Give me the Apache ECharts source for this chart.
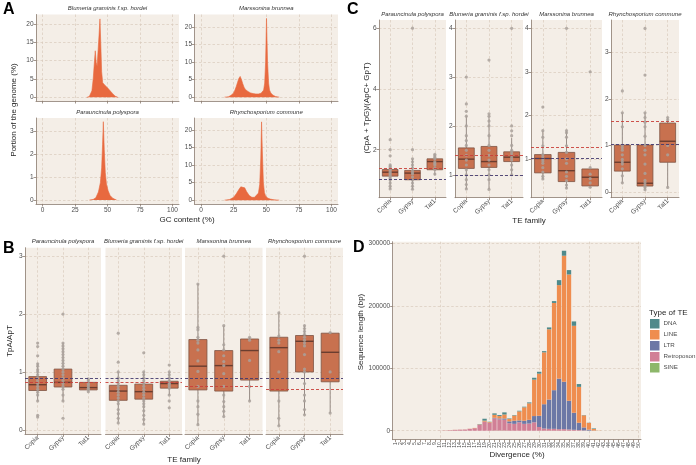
<!DOCTYPE html>
<html>
<head>
<meta charset="utf-8">
<script src="https://cdn.jsdelivr.net/npm/echarts@6/dist/echarts.min.js"></script>
<style>
  html, body { margin: 0; padding: 0; background: #fff; }
  #chart { width: 696px; height: 465px; }
</style>
</head>
<body>
<div id="chart"></div>
<script>
const FONT = '"Liberation Sans", Arial, sans-serif';
const PANEL_BG = '#f4eee7';
const GRID_COLOR = '#d9cabb';
const AXIS_COLOR = '#8a7b70';
const TEXT_COLOR = '#4d4d4d';
const AREA_COLOR = '#e8693f';
const BOX_FILL = '#c8714f';
const BOX_BORDER = '#7e5444';
const MEDIAN_COLOR = '#6a3d2f';
const WHISKER_COLOR = '#978c86';
const POINT_COLOR = '#a9a19b';
const RED = '#c8403a';
const PURPLE = '#43396e';

// ---------- Panel A: GC content (%) vs portion of genome (%)
const gcTicks = [0, 25, 50, 75, 100];
const blumeriaGC = [34, 36, 37, 38, 39, 40, 40.6, 41.3, 42, 42.8, 43.5, 44.2, 44.8, 45.5, 46.3, 47, 48, 49, 50, 51, 52, 53, 54, 55, 56, 57, 58];
const blumeriaPct = [0, 0.2, 0.6, 1.8, 5, 10, 12.7, 9.5, 8.5, 13, 17, 21.4, 15, 7, 4, 3.6, 3.3, 3, 2.6, 2.2, 1.8, 1.4, 1, 0.6, 0.3, 0.1, 0];
const marssoninaGC = [18, 21, 23, 25, 26, 27, 28, 29, 30, 31, 32, 33, 34, 36, 38, 40, 42, 44, 45, 46, 47, 48, 48.8, 49.5, 50.2, 51, 51.8, 52.5, 53.5, 55, 57, 60];
const marssoninaPct = [0, 0.1, 0.5, 1.2, 2, 3, 4.2, 5.3, 5.9, 5, 3.8, 2.8, 2.2, 1.6, 1.2, 1, 0.9, 0.9, 1, 1.1, 1.4, 2, 4, 10, 22.4, 10, 4, 2, 1.2, 0.6, 0.2, 0];
const parauncinulaGC = [36, 39, 41, 43, 44.5, 45.5, 46.2, 46.8, 47.5, 48.3, 49.2, 50.5, 52, 54, 57];
const parauncinulaPct = [0, 0.03, 0.1, 0.35, 0.75, 1.4, 2.4, 3.4, 2.2, 1.2, 0.7, 0.4, 0.2, 0.08, 0];
const rhynchoGC = [18, 22, 25, 27, 29, 30.5, 32, 33.5, 35, 37, 39, 41, 42.5, 44, 45, 45.8, 46.4, 47, 47.8, 48.6, 49.5, 51, 53, 56, 60];
const rhynchoPct = [0, 0.2, 0.8, 1.8, 3, 3.8, 4, 3.5, 2.4, 1.3, 0.8, 0.8, 1.1, 2, 4.5, 12, 22.3, 14, 5, 2.2, 1.2, 0.6, 0.3, 0.1, 0];

// ---------- Panels B and C: TE families, boxes are [min, Q1, median, Q3, max]
const teFamilies = ['Copia', 'Gypsy', 'Tat1'];
const facetSpecies = ['Parauncinula polyspora', 'Blumeria graminis f.sp. hordei', 'Marssonina brunnea', 'Rhynchosporium commune'];

// B: TpA/ApT
const tpaTicks = [0, 1, 2, 3];
const tpaBoxPar = [[0.5, 0.68, 0.78, 0.92, 1.15], [0.5, 0.74, 0.82, 1.05, 1.5], [0.66, 0.69, 0.73, 0.82, 0.88]];
const tpaBoxBlu = [[0.13, 0.51, 0.67, 0.77, 1.0], [0.1, 0.53, 0.66, 0.79, 1.0], [0.6, 0.72, 0.8, 0.84, 1.0]];
const tpaBoxMar = [[0.09, 0.69, 1.1, 1.56, 2.52], [0.23, 0.67, 1.11, 1.37, 1.8], [0.5, 0.86, 1.37, 1.57, 1.6]];
const tpaBoxRhy = [[0.07, 0.67, 1.42, 1.6, 2.02], [0.26, 1.0, 1.53, 1.63, 1.8], [0.29, 0.83, 1.34, 1.67, 1.68]];
const tpaPtsPar = [
  [0.22, 0.25, 0.5, 0.6, 0.65, 0.7, 0.75, 0.8, 0.85, 0.9, 0.95, 1.0, 1.04, 1.1, 1.14, 1.28, 1.44, 1.5],
  [0.2, 0.5, 0.6, 0.7, 0.75, 0.8, 0.85, 0.9, 0.95, 1.0, 1.05, 1.1, 1.15, 1.2, 1.25, 1.3, 1.35, 1.4, 1.45, 1.5, 2.0],
  [0.66, 0.7, 0.72, 0.75, 0.78, 0.8, 0.85, 0.88]];
const tpaPtsBlu = [
  [0.12, 0.2, 0.28, 0.35, 0.45, 0.5, 0.55, 0.6, 0.65, 0.7, 0.75, 0.8, 0.85, 0.9, 1.0, 1.17, 1.67],
  [0.1, 0.18, 0.25, 0.33, 0.4, 0.45, 0.5, 0.55, 0.6, 0.65, 0.7, 0.75, 0.8, 0.85, 0.9, 0.95, 1.0, 1.33],
  [0.38, 0.5, 0.6, 0.72, 0.75, 0.78, 0.8, 0.82, 0.85, 0.9, 0.95, 1.0, 1.12]];
const tpaPtsMar = [
  [0.09, 0.27, 0.4, 0.5, 0.75, 1.01, 1.19, 1.38, 1.5, 1.55, 1.6, 1.73, 1.77, 2.52],
  [0.23, 0.32, 0.4, 0.49, 0.6, 0.75, 0.97, 1.11, 1.18, 1.28, 1.38, 1.47, 1.8, 3.0],
  [0.5, 0.75, 1.2, 1.55, 1.6]];
const tpaPtsRhy = [
  [0.07, 0.2, 0.5, 1.0, 1.35, 1.5, 1.55, 1.62, 2.02],
  [0.26, 0.35, 0.5, 0.6, 0.8, 1.0, 1.05, 1.3, 1.45, 1.5, 1.55, 1.6, 1.65, 1.7, 1.75, 1.8, 3.0],
  [0.29, 1.0, 1.68]];
const tpaRefRed = [0.83, 0.83, 0.76, 0.70];
const tpaRefPurple = [0.89, 0.89, 0.90, 0.90];

// C: (CpA + TpG)/(ApC + GpT)
const cpaRanges = [[0.42, 6.27], [0.53, 4.17], [0.11, 4.19], [-0.12, 3.69]];
const cpaTicks = [[2, 4, 6], [1, 2, 3, 4], [1, 2, 3, 4], [0, 1, 2, 3]];
const cpaBoxPar = [[0.71, 1.13, 1.26, 1.35, 1.5], [0.69, 1.01, 1.23, 1.32, 1.7], [1.15, 1.34, 1.61, 1.7, 1.85]];
const cpaBoxBlu = [[0.71, 1.13, 1.32, 1.55, 2.2], [0.7, 1.15, 1.27, 1.58, 2.2], [1.0, 1.27, 1.36, 1.47, 1.75]];
const cpaBoxMar = [[0.54, 0.68, 1.01, 1.1, 1.65], [0.33, 0.48, 0.73, 1.15, 1.65], [0.35, 0.38, 0.58, 0.77, 0.8]];
const cpaBoxRhy = [[0.2, 0.45, 0.64, 1.01, 1.7], [0.05, 0.13, 0.19, 1.01, 1.7], [0.1, 0.64, 1.09, 1.48, 1.6]];
const cpaPtsPar = [
  [0.71, 0.8, 0.9, 1.0, 1.05, 1.1, 1.15, 1.2, 1.25, 1.3, 1.35, 1.4, 1.45, 1.5, 1.8, 2.0, 2.33],
  [0.7, 0.8, 0.9, 1.0, 1.1, 1.2, 1.25, 1.3, 1.4, 1.5, 1.6, 1.7, 2.0, 6.0],
  [1.2, 1.35, 1.4, 1.5, 1.55, 1.6, 1.7, 1.75, 1.8, 1.85]];
const cpaPtsBlu = [
  [0.71, 0.8, 0.9, 1.0, 1.1, 1.2, 1.3, 1.4, 1.5, 1.6, 1.7, 1.8, 2.0, 2.2, 2.3, 2.45, 3.0],
  [0.7, 0.9, 1.0, 1.1, 1.2, 1.3, 1.4, 1.5, 1.6, 1.8, 2.0, 2.1, 2.2, 2.25, 3.35],
  [1.0, 1.1, 1.2, 1.3, 1.35, 1.4, 1.45, 1.5, 1.6, 1.8, 1.9, 2.0, 4.0]];
const cpaPtsMar = [
  [0.54, 0.6, 0.7, 0.8, 0.9, 0.95, 1.0, 1.05, 1.1, 1.3, 1.5, 1.65, 2.19],
  [0.33, 0.4, 0.5, 0.6, 0.7, 0.9, 1.0, 1.15, 1.3, 1.5, 1.6, 1.65, 4.0],
  [0.35, 0.45, 0.55, 0.65, 0.8, 3.0]];
const cpaPtsRhy = [
  [0.2, 0.35, 0.5, 0.6, 0.65, 0.7, 0.8, 0.9, 0.95, 1.0, 1.4, 1.7, 2.17],
  [0.05, 0.1, 0.15, 0.2, 0.25, 0.4, 0.6, 0.8, 0.9, 1.0, 1.2, 1.4, 1.5, 1.6, 1.7, 2.51, 3.51],
  [0.1, 0.8, 1.0, 1.55, 1.6]];
const cpaRefRed = [1.40, 1.39, 1.27, 1.51];
const cpaRefPurple = [1.04, 1.0, 1.02, 1.02];

// ---------- Panel D: divergence (%) vs sequence length (bp)
const divergence = ['1', '2', '3', '4', '5', '6', '7', '8', '9', '10', '11', '12', '13', '14', '15', '16', '17', '18', '19', '20',
  '21', '22', '23', '24', '25', '26', '27', '28', '29', '30', '31', '32', '33', '34', '35', '36', '37', '38', '39', '40',
  '41', '42', '43', '44', '45', '46', '47', '48', '49', '50'];
const lenTicks = [0, 100000, 200000, 300000];
const lenSINE = [0, 0, 0, 0, 0, 0, 0, 0, 0, 0, 0, 0, 0, 0, 0, 0, 0, 0, 0, 0,
  200, 200, 200, 0, 0, 0, 0, 0, 0, 0, 0, 0, 0, 0, 0, 0, 0, 0, 0, 0,
  0, 0, 0, 0, 0, 0, 0, 0, 0, 0];
const lenRetroposon = [0, 0, 0, 0, 0, 0, 0, 0, 0, 200, 400, 800, 1400, 1700, 1900, 3000, 4000, 9500, 14000, 12500,
  19500, 18000, 17500, 12000, 11000, 13500, 11000, 11500, 13500, 6000, 3500, 3000, 3000, 2500, 2500, 2000, 1500, 1000, 500, 200,
  0, 0, 0, 0, 0, 0, 0, 0, 0, 0];
const lenLTR = [0, 0, 0, 0, 0, 0, 0, 0, 0, 0, 0, 0, 0, 0, 0, 0, 0, 200, 500, 500,
  1000, 1500, 2000, 3000, 5000, 3000, 5000, 6000, 10000, 18000, 39000, 47000, 62000, 81000, 76000, 46000, 27300, 11800, 4800, 1500,
  300, 0, 0, 0, 0, 0, 0, 0, 0, 0];
const lenLINE = [0, 0, 0, 0, 0, 0, 0, 0, 0, 0, 100, 100, 100, 100, 100, 200, 500, 500, 1700, 1000,
  4800, 3800, 6300, 4000, 8300, 14500, 21500, 26400, 58400, 67500, 83100, 112600, 139800, 149900, 202000, 202500, 139400, 57500, 19300, 10800,
  2500, 300, 0, 0, 0, 0, 0, 0, 0, 0];
const lenDNA = [0, 0, 0, 0, 0, 0, 0, 0, 0, 0, 0, 0, 0, 0, 0, 0, 0, 500, 3000, 400,
  2300, 1600, 3400, 800, 800, 1000, 1000, 1500, 3000, 3000, 2000, 3000, 3000, 8000, 8000, 7000, 7000, 4500, 500, 300,
  900, 0, 0, 0, 0, 0, 0, 0, 0, 0];
const teTypeLegend = ['DNA', 'LINE', 'LTR', 'Retroposon', 'SINE'];

const grids = [], xAxes = [], yAxes = [], series = [], texts = [];
const axisLineStyle = { color: AXIS_COLOR, width: 0.8 };
const gridLineStyle = { color: GRID_COLOR, width: 0.7, type: [2.5, 2] };

function addGrid(left, top, right, bottom) {
  grids.push({ show: true, left, top, width: right - left, height: bottom - top,
    backgroundColor: PANEL_BG, borderWidth: 0, outerBoundsMode: 'none' });
  return grids.length - 1;
}

function valueAxis(gi, min, max, ticks, o = {}) {
  return {
    type: 'value', gridIndex: gi, min, max,
    axisLine: { show: o.line !== false, onZero: false, lineStyle: axisLineStyle },
    axisTick: { show: o.line !== false, length: 2.5, customValues: ticks, lineStyle: axisLineStyle },
    axisLabel: { show: o.labels !== false, customValues: ticks, fontSize: 6.5, color: TEXT_COLOR,
      fontFamily: FONT, margin: 2.5, formatter: v => String(v) },
    splitLine: { show: true, lineStyle: gridLineStyle }
  };
}

function categoryAxis(gi, data, o = {}) {
  return {
    type: 'category', gridIndex: gi, data, boundaryGap: true,
    axisLine: { show: true, onZero: false, lineStyle: axisLineStyle },
    axisTick: { show: true, alignWithLabel: true, interval: 0, length: 2.5, lineStyle: axisLineStyle },
    axisLabel: { interval: 0, rotate: o.rotate || 45, fontSize: o.fontSize || 6.5, color: TEXT_COLOR,
      fontFamily: FONT, margin: 2.5 },
    splitLine: { show: true, alignWithLabel: true, interval: o.splitInterval || 0, lineStyle: gridLineStyle }
  };
}

function label(text, x, y, o = {}) {
  texts.push({
    type: 'text', x, y, rotation: o.rotate ? Math.PI / 2 : 0, silent: true, z: 10,
    style: {
      text, fill: o.color || '#262626',
      font: `${o.italic ? 'italic ' : ''}${o.bold ? 'bold ' : ''}${o.size || 8}px ${FONT}`,
      align: o.align || 'center', verticalAlign: 'middle'
    }
  });
}

// box + whiskers drawn through the axes (ggplot style, no whisker caps)
function renderBox(params, api) {
  const x = api.value(0);
  const lo = api.coord([x, api.value(1)]);
  const q1 = api.coord([x, api.value(2)]);
  const med = api.coord([x, api.value(3)]);
  const q3 = api.coord([x, api.value(4)]);
  const hi = api.coord([x, api.value(5)]);
  const half = api.size([1, 0])[0] * 0.35;
  return {
    type: 'group',
    children: [
      { type: 'line', shape: { x1: lo[0], y1: lo[1], x2: q1[0], y2: q1[1] }, style: { stroke: WHISKER_COLOR, lineWidth: 1 } },
      { type: 'line', shape: { x1: q3[0], y1: q3[1], x2: hi[0], y2: hi[1] }, style: { stroke: WHISKER_COLOR, lineWidth: 1 } },
      { type: 'rect', shape: { x: q3[0] - half, y: q3[1], width: half * 2, height: q1[1] - q3[1] },
        style: { fill: BOX_FILL, stroke: BOX_BORDER, lineWidth: 0.8 } },
      { type: 'line', shape: { x1: med[0] - half, y1: med[1], x2: med[0] + half, y2: med[1] },
        style: { stroke: MEDIAN_COLOR, lineWidth: 1.4 } }
    ]
  };
}

function addDensity(gi, gc, pct) {
  series.push({
    type: 'line', xAxisIndex: gi, yAxisIndex: gi, data: gc.map((g, i) => [g, pct[i]]),
    symbol: 'none', silent: true, z: 3,
    lineStyle: { color: AREA_COLOR, width: 0.6 }, areaStyle: { color: AREA_COLOR, opacity: 1 }
  });
}

function addBoxFacet(gi, boxes, pts, red, purple) {
  series.push({
    type: 'custom', xAxisIndex: gi, yAxisIndex: gi, renderItem: renderBox, silent: true, z: 2,
    data: boxes.map((b, i) => [i].concat(b)), encode: { x: 0, y: [1, 2, 3, 4, 5] }
  });
  series.push({
    type: 'scatter', xAxisIndex: gi, yAxisIndex: gi, silent: true, z: 3,
    data: pts.flatMap((arr, i) => arr.map(v => [i, v])),
    symbolSize: 3.2, itemStyle: { color: POINT_COLOR, opacity: 0.85 },
    markLine: {
      silent: true, symbol: 'none', label: { show: false }, animation: false,
      data: [
        { yAxis: red, lineStyle: { color: RED, type: [3, 2], width: 0.9 } },
        { yAxis: purple, lineStyle: { color: PURPLE, type: [3, 2], width: 0.9 } }
      ]
    }
  });
}

// ---------- Panel A layout
const aPanels = [
  { l: 36, r: 179, t: 14.5, b: 101, y: [-1, 22.6], ticks: [0, 5, 10, 15, 20], gc: blumeriaGC, pct: blumeriaPct, xl: false, name: 'Blumeria graminis f.sp. hordei' },
  { l: 194.5, r: 338, t: 14.5, b: 101, y: [-1.1, 23.5], ticks: [0, 5, 10, 15, 20], gc: marssoninaGC, pct: marssoninaPct, xl: false, name: 'Marssonina brunnea' },
  { l: 36, r: 179, t: 118, b: 204, y: [-0.17, 3.56], ticks: [0, 1, 2, 3], gc: parauncinulaGC, pct: parauncinulaPct, xl: true, name: 'Parauncinula polyspora' },
  { l: 194.5, r: 338, t: 118, b: 204, y: [-1.1, 23.4], ticks: [0, 5, 10, 15, 20], gc: rhynchoGC, pct: rhynchoPct, xl: true, name: 'Rhynchosporium commune' }
];
aPanels.forEach(p => {
  const gi = addGrid(p.l, p.t, p.r, p.b);
  xAxes.push(valueAxis(gi, -5, 105, gcTicks, { labels: p.xl }));
  yAxes.push(valueAxis(gi, p.y[0], p.y[1], p.ticks));
  addDensity(gi, p.gc, p.pct);
  label(p.name, (p.l + p.r) / 2, p.t - 6, { italic: true, size: 6, color: '#333' });
});
label('A', 3, 10, { bold: true, size: 16, align: 'left', color: '#000' });
label('Portion of the genome (%)', 14, 110, { rotate: true });
label('GC content (%)', 187, 220);

// ---------- Panel B layout
const bEdges = [[25, 101], [105.5, 182], [185, 262.5], [266, 343]];
const tpaBoxes = [tpaBoxPar, tpaBoxBlu, tpaBoxMar, tpaBoxRhy];
const tpaPts = [tpaPtsPar, tpaPtsBlu, tpaPtsMar, tpaPtsRhy];
bEdges.forEach((e, k) => {
  const gi = addGrid(e[0], 247.7, e[1], 434.3);
  xAxes.push(categoryAxis(gi, teFamilies));
  yAxes.push(valueAxis(gi, -0.077, 3.147, tpaTicks, k === 0 ? {} : { line: false, labels: false }));
  addBoxFacet(gi, tpaBoxes[k], tpaPts[k], tpaRefRed[k], tpaRefPurple[k]);
  label(facetSpecies[k], (e[0] + e[1]) / 2, 241, { italic: true, size: 6, color: '#333' });
});
label('B', 3, 249, { bold: true, size: 16, align: 'left', color: '#000' });
label('TpA/ApT', 10, 341, { rotate: true });
label('TE family', 184, 460);

// ---------- Panel C layout
const cEdges = [[379, 446], [455, 523], [531, 602], [611, 679]];
const cpaBoxes = [cpaBoxPar, cpaBoxBlu, cpaBoxMar, cpaBoxRhy];
const cpaPts = [cpaPtsPar, cpaPtsBlu, cpaPtsMar, cpaPtsRhy];
cEdges.forEach((e, k) => {
  const gi = addGrid(e[0], 20, e[1], 197.7);
  xAxes.push(categoryAxis(gi, teFamilies));
  yAxes.push(valueAxis(gi, cpaRanges[k][0], cpaRanges[k][1], cpaTicks[k]));
  addBoxFacet(gi, cpaBoxes[k], cpaPts[k], cpaRefRed[k], cpaRefPurple[k]);
  label(facetSpecies[k], (e[0] + e[1]) / 2, 14, { italic: true, size: 6, color: '#333' });
});
label('C', 347, 10, { bold: true, size: 16, align: 'left', color: '#000' });
label('(CpA + TpG)/(ApC+ GpT)', 367, 108, { rotate: true });
label('TE family', 529, 221);

// ---------- Panel D layout
const gD = addGrid(392.7, 241.7, 641, 439.7);
xAxes.push(categoryAxis(gD, divergence, { rotate: 90, fontSize: 5, splitInterval: (i) => (i + 1) % 10 === 0 }));
yAxes.push(valueAxis(gD, -14400, 303000, lenTicks));
[
  ['SINE', lenSINE, '#8db76a'],
  ['Retroposon', lenRetroposon, '#d17f96'],
  ['LTR', lenLTR, '#6c78a6'],
  ['LINE', lenLINE, '#ef8d4f'],
  ['DNA', lenDNA, '#4f8a8b']
].forEach(([name, values, color]) => {
  series.push({
    type: 'bar', name, stack: 'te', xAxisIndex: gD, yAxisIndex: gD, data: values,
    barWidth: '88%', itemStyle: { color }, silent: true
  });
});
label('D', 353, 248, { bold: true, size: 16, align: 'left', color: '#000' });
label('Sequence length (bp)', 361, 332, { rotate: true });
label('Divergence (%)', 517, 455);
label('Type of TE', 649, 313, { align: 'left', size: 8 });

const chart = echarts.init(document.getElementById('chart'), null, { renderer: 'canvas' });
chart.setOption({
  animation: false,
  backgroundColor: '#ffffff',
  textStyle: { fontFamily: FONT },
  grid: grids,
  xAxis: xAxes,
  yAxis: yAxes,
  legend: {
    data: teTypeLegend, orient: 'vertical', left: 650, top: 319, padding: 0,
    itemWidth: 9.5, itemHeight: 9.5, itemGap: 1.5, icon: 'rect', selectedMode: false,
    textStyle: { fontSize: 6.2, color: TEXT_COLOR, fontFamily: FONT, padding: [0, 0, 0, -1] }
  },
  graphic: texts,
  series
});
</script>
</body>
</html>
